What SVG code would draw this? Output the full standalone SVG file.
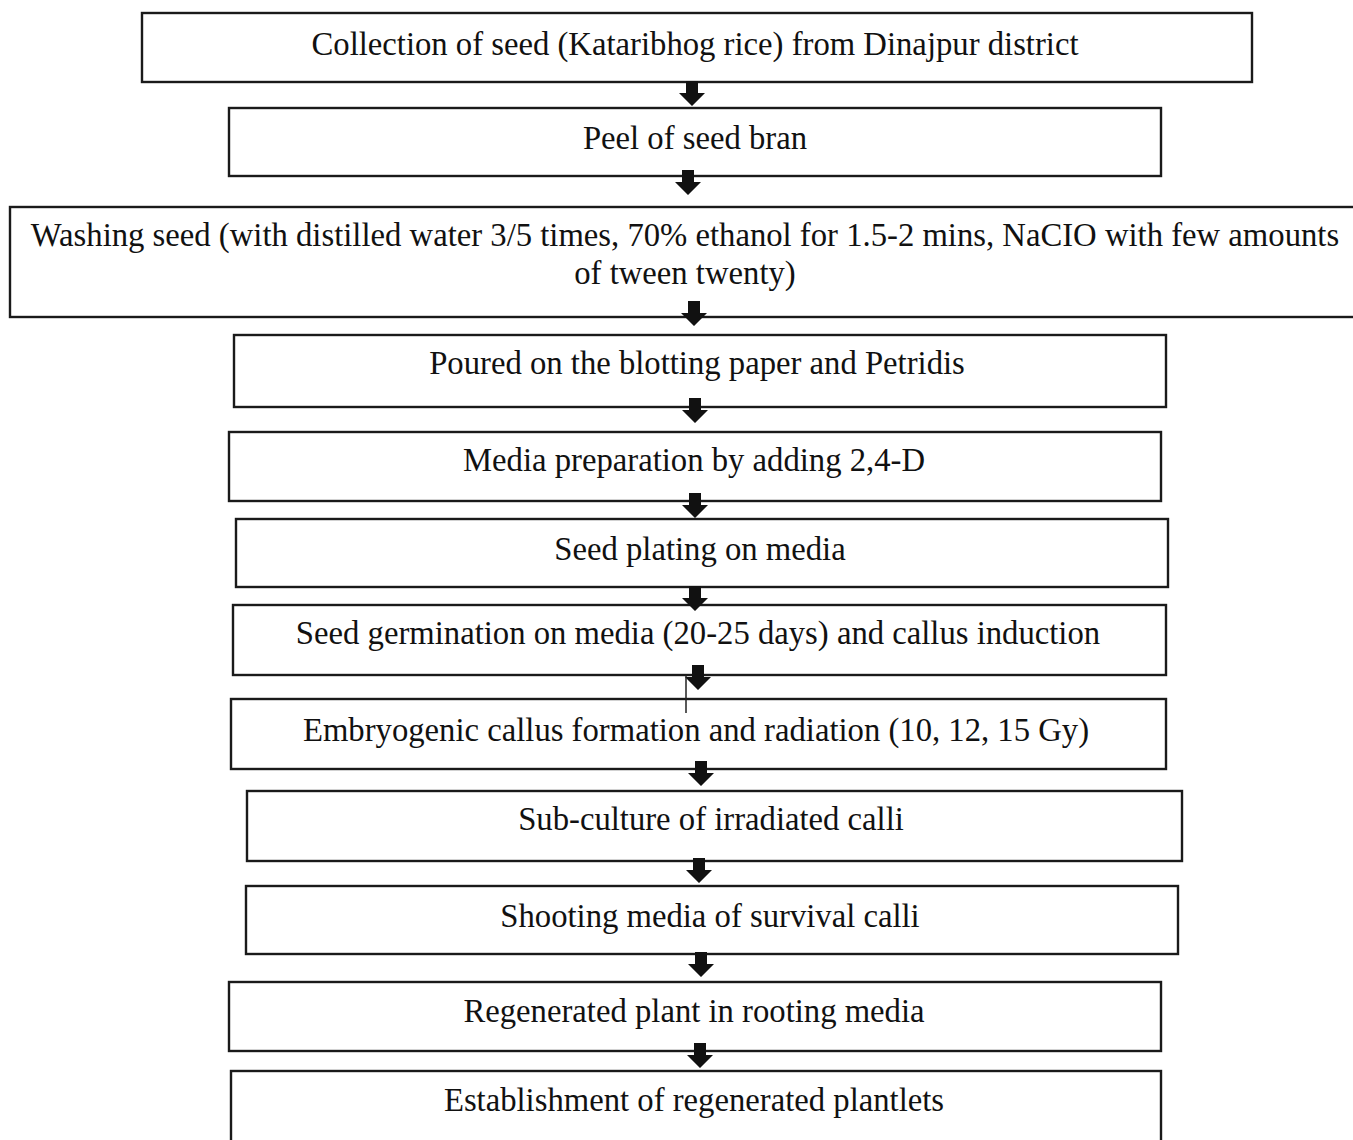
<svg xmlns="http://www.w3.org/2000/svg" xmlns:xlink="http://www.w3.org/1999/xlink" width="1353" height="1140" viewBox="0 0 1353 1140">
<style>
.box{fill:#fff;stroke:#1a1a1a;stroke-width:2.4}
.t{font-family:"Liberation Serif","Times New Roman",serif;font-size:32.7px;fill:#111;text-anchor:middle}
.arr{fill:#111}
</style>
<defs>
<path id="ba" d="M-6,0 H6 V12 H13 L0,25 L-13,12 H-6 Z"/>
</defs>
<rect width="1353" height="1140" fill="#fff"/>
<g id="n1"><rect class="box" x="142" y="13" width="1110" height="69"/><text class="t" x="695" y="55">Collection of seed (Kataribhog rice) from Dinajpur district</text></g>
<g id="n2"><rect class="box" x="229" y="108" width="932" height="68"/><text class="t" x="695" y="149">Peel of seed bran</text></g>
<g id="n3"><rect class="box" x="10" y="207" width="1345" height="110"/><text class="t" x="685" y="246">Washing seed (with distilled water 3/5 times, 70% ethanol for 1.5-2 mins, NaCIO with few amounts</text><text class="t" x="685" y="284">of tween twenty)</text></g>
<g id="n4"><rect class="box" x="234" y="335" width="932" height="72"/><text class="t" x="697" y="374">Poured on the blotting paper and Petridis</text></g>
<g id="n5"><rect class="box" x="229" y="432" width="932" height="69"/><text class="t" x="694" y="471">Media preparation by adding 2,4-D</text></g>
<g id="n6"><rect class="box" x="236" y="519" width="932" height="68"/><text class="t" x="700" y="560">Seed plating on media</text></g>
<g id="n7"><rect class="box" x="233" y="605" width="933" height="70"/><text class="t" x="698" y="644">Seed germination on media (20-25 days) and callus induction</text></g>
<g id="n8"><rect class="box" x="231" y="699" width="935" height="70"/><text class="t" x="696" y="741">Embryogenic callus formation and radiation (10, 12, 15 Gy)</text></g>
<g id="n9"><rect class="box" x="247" y="791" width="935" height="70"/><text class="t" x="711" y="830">Sub-culture of irradiated calli</text></g>
<g id="n10"><rect class="box" x="246" y="886" width="932" height="68"/><text class="t" x="710" y="927">Shooting media of survival calli</text></g>
<g id="n11"><rect class="box" x="229" y="982" width="932" height="69"/><text class="t" x="694" y="1022">Regenerated plant in rooting media</text></g>
<g id="n12"><rect class="box" x="231" y="1071" width="930" height="80"/><text class="t" x="694" y="1111">Establishment of regenerated plantlets</text></g>
<g id="connectors" class="arr">
<use xlink:href="#ba" x="692" y="81"/>
<use xlink:href="#ba" x="688" y="170"/>
<use xlink:href="#ba" x="694" y="301"/>
<use xlink:href="#ba" x="695" y="398"/>
<use xlink:href="#ba" x="695" y="493"/>
<use xlink:href="#ba" x="695" y="586"/>
<use xlink:href="#ba" x="698" y="665"/>
<line x1="686" y1="675" x2="686" y2="713" stroke="#222" stroke-width="1.5"/>
<use xlink:href="#ba" x="701" y="761"/>
<use xlink:href="#ba" x="699" y="858"/>
<use xlink:href="#ba" x="701" y="952"/>
<use xlink:href="#ba" x="700" y="1043"/>
</g>
</svg>
